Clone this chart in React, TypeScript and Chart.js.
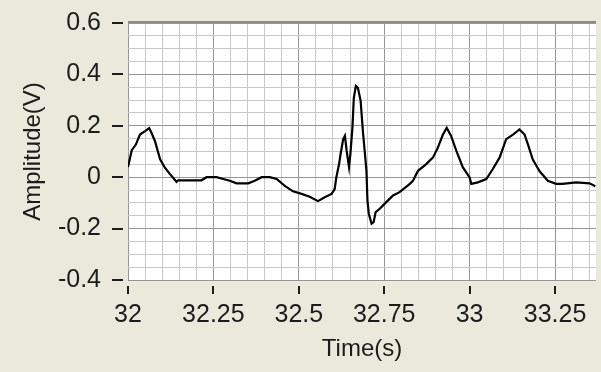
import React, { useEffect, useRef } from "react";
import { Chart, registerables } from "chart.js";

Chart.register(...registerables);

// ECG trace
const timeSeconds = [
  32.0, 32.011, 32.023, 32.035, 32.05, 32.062, 32.069, 32.079, 32.094, 32.108,
  32.123, 32.142, 32.147, 32.215, 32.23, 32.259, 32.279, 32.298, 32.318, 32.352,
  32.371, 32.391, 32.415, 32.435, 32.459, 32.483, 32.508, 32.532, 32.556, 32.576,
  32.596, 32.605, 32.61, 32.618, 32.623, 32.63, 32.635, 32.64, 32.647, 32.651,
  32.657, 32.661, 32.667, 32.673, 32.681, 32.688, 32.693, 32.698, 32.701, 32.705,
  32.713, 32.719, 32.725, 32.737, 32.756, 32.776, 32.795, 32.825, 32.834, 32.849,
  32.873, 32.893, 32.907, 32.922, 32.933, 32.946, 32.961, 32.98, 33.0, 33.005,
  33.024, 33.049, 33.068, 33.088, 33.107, 33.127, 33.146, 33.161, 33.171, 33.185,
  33.205, 33.229, 33.253, 33.272, 33.312, 33.351, 33.368,
];
const amplitudeVolts = [
  0.04, 0.105, 0.127, 0.166, 0.179, 0.191, 0.172, 0.14, 0.07, 0.037,
  0.012, -0.018, -0.012, -0.012, 0.0, 0.0, -0.007, -0.014, -0.024, -0.024,
  -0.014, 0.0, 0.0, -0.007, -0.034, -0.055, -0.065, -0.076, -0.093, -0.078,
  -0.065, -0.046, 0.0, 0.052, 0.096, 0.148, 0.161, 0.103, 0.039, 0.09,
  0.193, 0.308, 0.355, 0.348, 0.297, 0.172, 0.1, 0.025, -0.091, -0.143,
  -0.181, -0.175, -0.136, -0.123, -0.097, -0.071, -0.058, -0.026, -0.014, 0.025,
  0.051, 0.077, 0.115, 0.166, 0.192, 0.16, 0.103, 0.039, -0.001, -0.026,
  -0.02, -0.007, 0.032, 0.077, 0.148, 0.166, 0.186, 0.166, 0.127, 0.069,
  0.023, -0.014, -0.026, -0.026, -0.02, -0.024, -0.035,
];

const xTickLabels = ["32", "32.25", "32.5", "32.75", "33", "33.25"];
const yTickLabels = ["-0.4", "-0.2", "0", "0.2", "0.4", "0.6"];
const xMin = 32;
const xMax = 33.37;
const yMin = -0.4;
const yMax = 0.6;
const minorStep = 0.05;

const fmt = (v: number) => String(Math.round(v * 100) / 100 + 0);

const BG = "#EAE9DC";
const TEXT = "#1c1c1c";
const MAJOR = "#969696";
const MINOR = "#c8c8c8";
const FONT = "'Liberation Sans', Arial, sans-serif";

function minorTicks(min: number, max: number) {
  const out: { value: number }[] = [];
  const start = Math.ceil(min / minorStep - 1e-6);
  const end = Math.floor(max / minorStep + 1e-6);
  for (let i = start; i <= end; i++) out.push({ value: Math.round(i * minorStep * 1000) / 1000 });
  return out;
}

const decorPlugin = {
  id: "decor",
  beforeDraw(chart: any) {
    const { ctx, chartArea } = chart;
    ctx.save();
    ctx.fillStyle = BG;
    ctx.fillRect(0, 0, chart.width, chart.height);
    ctx.fillStyle = "#ffffff";
    ctx.fillRect(chartArea.left, chartArea.top, chartArea.right - chartArea.left, chartArea.bottom - chartArea.top);
    ctx.restore();
  },
  afterDraw(chart: any) {
    const { ctx, chartArea, scales } = chart;
    ctx.save();
    ctx.strokeStyle = TEXT;
    ctx.lineWidth = 2;
    ctx.beginPath();
    xTickLabels.forEach((l) => {
      const px = Math.round(scales.x.getPixelForValue(parseFloat(l)));
      ctx.moveTo(px, chartArea.bottom + 6);
      ctx.lineTo(px, chartArea.bottom + 14);
    });
    yTickLabels.forEach((l) => {
      const py = Math.round(scales.y.getPixelForValue(parseFloat(l)));
      ctx.moveTo(chartArea.left - 16, py);
      ctx.lineTo(chartArea.left - 5, py);
    });
    ctx.stroke();
    ctx.strokeStyle = "#8a8a8a";
    ctx.lineWidth = 2;
    ctx.beginPath();
    ctx.moveTo(chartArea.left, chartArea.top - 1);
    ctx.lineTo(chartArea.right, chartArea.top - 1);
    ctx.stroke();
    ctx.restore();
  },
};

export default function App() {
  const ref = useRef<HTMLCanvasElement | null>(null);

  useEffect(() => {
    if (!ref.current) return;
    const data = timeSeconds.map((t, i) => ({ x: t, y: amplitudeVolts[i] }));
    const chart = new Chart(ref.current, {
      type: "line",
      data: {
        datasets: [
          {
            data,
            borderColor: "#000000",
            borderWidth: 2.2,
            pointRadius: 0,
            tension: 0,
            fill: false,
          },
        ],
      },
      options: {
        animation: false,
        responsive: false,
        devicePixelRatio: 1,
        layout: { padding: { top: 23, right: 5, left: 0, bottom: 0 } },
        plugins: { legend: { display: false }, tooltip: { enabled: false } },
        scales: {
          x: {
            type: "linear",
            min: xMin,
            max: xMax,
            afterBuildTicks: (scale: any) => {
              scale.ticks = minorTicks(xMin, xMax);
            },
            afterFit: (scale: any) => {
              scale.height = 372 - 280;
              scale.paddingLeft = 0;
              scale.paddingRight = 0;
            },
            border: { display: false },
            grid: {
              drawTicks: false,
              color: (c: any) => (c.tick && xTickLabels.includes(fmt(c.tick.value)) ? MAJOR : MINOR),
              lineWidth: 1,
            },
            ticks: {
              autoSkip: false,
              maxRotation: 0,
              padding: 20,
              color: TEXT,
              font: { family: FONT, size: 25 },
              callback: (v: any) => {
                const s = fmt(Number(v));
                return xTickLabels.includes(s) ? s : "";
              },
            },
            title: {
              display: true,
              text: "Time(s)",
              color: TEXT,
              font: { family: FONT, size: 24 },
              padding: { top: 0, bottom: 8 },
            },
          },
          y: {
            type: "linear",
            min: yMin,
            max: yMax,
            afterBuildTicks: (scale: any) => {
              scale.ticks = minorTicks(yMin, yMax);
            },
            afterFit: (scale: any) => {
              scale.width = 128;
              scale.paddingTop = 0;
              scale.paddingBottom = 0;
            },
            border: { display: false },
            grid: {
              drawTicks: false,
              color: (c: any) => (c.tick && yTickLabels.includes(fmt(c.tick.value)) ? MAJOR : MINOR),
              lineWidth: 1,
            },
            ticks: {
              autoSkip: false,
              padding: 27,
              color: TEXT,
              font: { family: FONT, size: 25 },
              callback: (v: any) => {
                const s = fmt(Number(v));
                return yTickLabels.includes(s) ? s : "";
              },
            },
            title: {
              display: true,
              text: "Amplitude(V)",
              color: TEXT,
              font: { family: FONT, size: 24 },
              padding: { top: 19, bottom: 0 },
            },
          },
        },
      },
      plugins: [decorPlugin],
    });
    return () => chart.destroy();
  }, []);

  return (
    <div style={{ position: "absolute", left: 0, top: 0, width: 601, height: 372, background: BG }}>
      <canvas ref={ref} width={601} height={372} style={{ display: "block", width: 601, height: 372 }} />
    </div>
  );
}
